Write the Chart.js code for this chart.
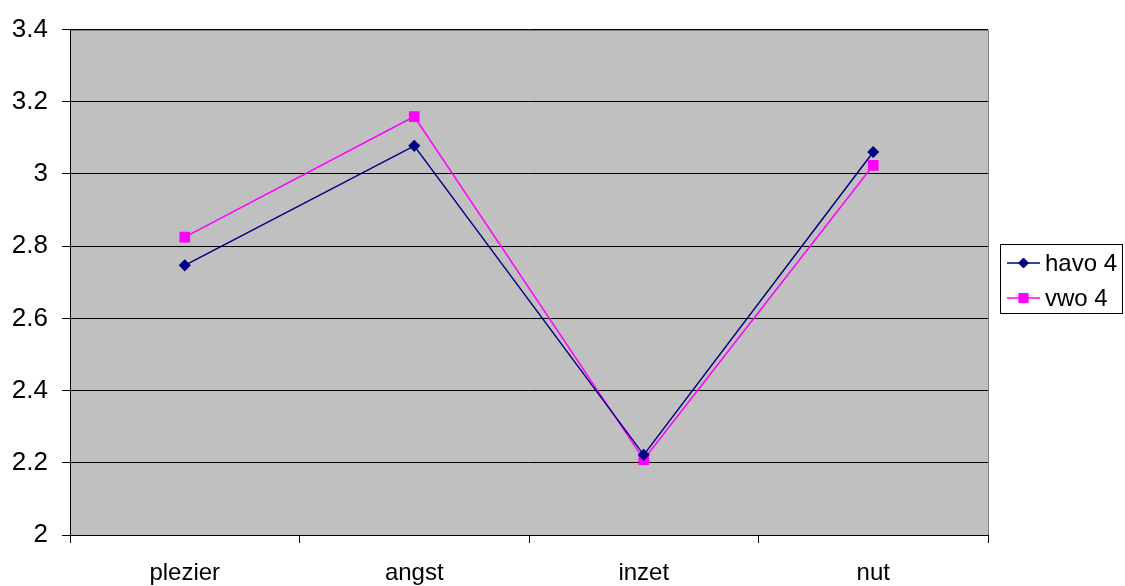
<!DOCTYPE html>
<html>
<head>
<meta charset="utf-8">
<script src="https://cdn.jsdelivr.net/npm/chart.js@4/dist/chart.umd.min.js"></script>
<style>
  html, body { margin: 0; padding: 0; background: #fff; }
  #wrap { width: 1125px; height: 586px; position: relative; }
</style>
</head>
<body>
<div id="wrap"><canvas id="chart"></canvas></div>
<script>
// categories and series
const categories = ["plezier", "angst", "inzet", "nut"];
const havo4 = [2.747, 3.078, 2.222, 3.061];
const vwo4 = [2.825, 3.159, 2.209, 3.024];
const yMin = 2, yMax = 3.4, yStep = 0.2;

const FONT = "'Liberation Sans', Arial, sans-serif";

// grey plot area like the old Excel charts
const plotBackground = {
  id: "plotBackground",
  beforeDraw(chart) {
    const { ctx, chartArea: a } = chart;
    ctx.save();
    ctx.fillStyle = "#c0c0c0";
    ctx.fillRect(a.left, a.top, a.right - a.left, a.bottom - a.top);
    ctx.strokeStyle = "#808080";
    ctx.lineWidth = 1;
    ctx.strokeRect(Math.round(a.left) + 0.5, Math.round(a.top) + 0.5,
      Math.round(a.right - a.left), Math.round(a.bottom - a.top));
    ctx.restore();
  }
};

// legend box on the right with line + marker samples
const boxLegend = {
  id: "boxLegend",
  afterDraw(chart) {
    const ctx = chart.ctx;
    const x = 1000.5, y = 244.5, w = 122, h = 69;
    ctx.save();
    ctx.fillStyle = "#fff";
    ctx.fillRect(x, y, w, h);
    ctx.strokeStyle = "#000";
    ctx.lineWidth = 1;
    ctx.strokeRect(x, y, w, h);
    chart.data.datasets.forEach((ds, i) => {
      const cy = 263 + i * 35;
      ctx.strokeStyle = ds.borderColor;
      ctx.lineWidth = 1.5;
      ctx.beginPath();
      ctx.moveTo(1007, cy);
      ctx.lineTo(1040, cy);
      ctx.stroke();
      ctx.fillStyle = ds.pointBackgroundColor;
      ctx.strokeStyle = ds.pointBorderColor;
      ctx.lineWidth = 1;
      Chart.helpers.drawPoint(ctx, {
        pointStyle: ds.pointStyle,
        radius: ds.pointRadius,
        rotation: 0,
        borderWidth: 1
      }, 1023.5, cy);
      ctx.fillStyle = "#000";
      ctx.font = "24px " + FONT;
      ctx.textBaseline = "middle";
      ctx.textAlign = "left";
      ctx.fillText(ds.label, 1045, cy + 1);
    });
    ctx.restore();
  }
};

new Chart(document.getElementById("chart"), {
  type: "line",
  data: {
    labels: categories,
    datasets: [{
      label: "havo 4",
      data: havo4,
      borderColor: "#000080",
      backgroundColor: "#000080",
      pointBackgroundColor: "#000080",
      pointBorderColor: "#000080",
      pointStyle: "rectRot",
      pointRadius: 5,
      borderWidth: 1.5,
      tension: 0
    }, {
      label: "vwo 4",
      data: vwo4,
      borderColor: "#ff00ff",
      backgroundColor: "#ff00ff",
      pointBackgroundColor: "#ff00ff",
      pointBorderColor: "#ff00ff",
      pointStyle: "rect",
      pointRadius: 6.5,
      borderWidth: 1.5,
      tension: 0
    }]
  },
  options: {
    responsive: true,
    maintainAspectRatio: false,
    animation: false,
    layout: { padding: { top: 27, right: 137, left: 0, bottom: 0 } },
    plugins: {
      legend: { display: false },
      tooltip: { enabled: false }
    },
    scales: {
      x: {
        type: "category",
        offset: true,
        afterFit: s => { s.height = 51; },
        grid: {
          offset: true,
          drawOnChartArea: false,
          drawTicks: true,
          tickLength: 8,
          color: "#000"
        },
        border: { color: "#000", width: 1 },
        ticks: {
          color: "#000",
          padding: 16,
          font: { family: FONT, size: 24 }
        }
      },
      y: {
        min: yMin,
        max: yMax,
        afterFit: s => { s.width = 70; },
        grid: {
          color: "#000",
          lineWidth: 1,
          tickLength: 8
        },
        border: { color: "#000", width: 1 },
        ticks: {
          stepSize: yStep,
          color: "#000",
          padding: 14,
          font: { family: FONT, size: 26 },
          callback: v => String(+v.toFixed(1))
        }
      }
    }
  },
  plugins: [plotBackground, boxLegend]
});
</script>
</body>
</html>
